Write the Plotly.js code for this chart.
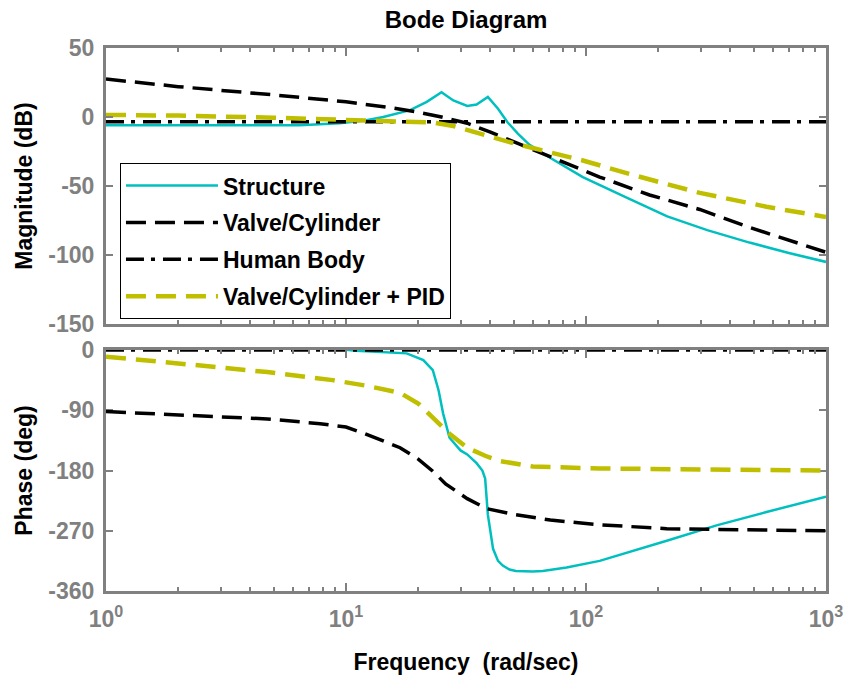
<!DOCTYPE html>
<html><head><meta charset="utf-8">
<script src="https://cdn.plot.ly/plotly-3.0.1.min.js"></script>
<style>html,body{margin:0;padding:0;background:#fff}#chart{width:843px;height:677px}</style>
</head><body><div id="chart"></div>
<script>
// ---- data ----
const seriesNames = ['Structure', 'Valve/Cylinder', 'Human Body', 'Valve/Cylinder + PID'];

const structMagFreq = [1, 2, 4, 6.4, 9.4, 12, 14.3, 16.5, 18.5, 21.7, 25, 28, 32, 35, 39, 43, 47, 52, 58, 70, 97, 150, 218, 320, 480, 700, 1000];
const structMag     = [-6, -6, -6, -6, -4.5, -2.5, 0, 2.5, 5, 11, 18, 12, 8, 9, 14.5, 6, -3.6, -12, -20, -29, -43.5, -59, -72, -82, -91, -98.5, -105];
const structPhFreq  = [1, 5, 9, 11, 14, 17.9, 21, 23, 24.3, 25.4, 27, 30, 32, 35, 37, 38, 39, 40, 41, 43, 45, 48, 51, 60, 66, 83, 114, 217, 350, 565, 1000];
const structPhase   = [2, 2, 2, -1, -3, -5, -15, -30, -60, -95, -131, -150, -156, -169, -180, -192, -246, -275, -297, -315, -322, -328, -330, -331, -330, -325, -315, -285, -262, -242, -219];

const valveMagFreq  = [1, 2, 5, 10, 15, 20, 25, 32, 40, 50, 60, 70, 88, 114, 184, 298, 480, 700, 1000];
const valveMag      = [27.5, 22, 16, 11, 7, 3.5, 0, -4.5, -11, -18, -24, -28.5, -36, -43.5, -56.5, -67, -80, -89, -98];
const valvePhFreq   = [1, 2.5, 4.7, 7.8, 10, 12, 16.8, 20, 23, 26, 32, 38.5, 51, 71, 114, 217, 500, 1000];
const valvePhase    = [-92, -98, -103, -110, -115, -125, -146, -163, -181, -200, -222, -237, -246, -254, -261, -267, -269, -270];

const humanFreq     = [1, 1000];
const humanMag      = [-3.5, -3.5];
const humanPhase    = [0, 0];

const pidMagFreq    = [1, 2, 5, 8.8, 12.2, 17, 23, 28, 32, 40, 47, 51, 60, 83, 97, 157, 298, 565, 1000];
const pidMag        = [1.5, 1, -0.5, -2, -2.5, -3, -4, -6.5, -9.5, -14, -18, -19.5, -22.5, -29, -31.5, -42, -55, -65, -72.5];
const pidPhFreq     = [1, 1.8, 3, 4.7, 8.8, 12, 16.8, 20, 23, 27, 32, 38, 44, 60, 114, 300, 1000];
const pidPhase      = [-10, -18, -26, -33, -45, -53, -64, -80, -100, -125, -146, -158, -166, -174, -177, -179, -180];

const freqTickVals  = [1, 10, 100, 1000];
const freqTickText  = ['10<sup>0</sup>', '10<sup>1</sup>', '10<sup>2</sup>', '10<sup>3</sup>'];
const magTickVals   = [50, 0, -50, -100, -150];
const magTickText   = ['50', '0', '-50', '-100', '-150'];
const phTickVals    = [0, -90, -180, -270, -360];
const phTickText    = ['0', '-90', '-180', '-270', '-360'];

// minor log ticks: 2..9 within each decade
const minorFreqTicks = [];
[1, 10, 100].forEach(dec => { for (let k = 2; k <= 9; k++) minorFreqTicks.push(dec * k); });

// ---- styles ----
const FONT = 'Liberation Sans, Arial, sans-serif';
const GREY = '#808080';
const CYAN = 'rgb(0,191,191)';
const YEL = 'rgb(191,191,0)';
const styles = [
  {color: CYAN, width: 2.5, dash: 'solid'},
  {color: 'black', width: 3.5, dash: '20px,9px'},
  {color: 'black', width: 3.5, dash: '18px,7px,4px,8px'},
  {color: YEL, width: 4.5, dash: '20px,10px'}
];
const magData = [[structMagFreq, structMag], [valveMagFreq, valveMag], [humanFreq, humanMag], [pidMagFreq, pidMag]];
const phData = [[structPhFreq, structPhase], [valvePhFreq, valvePhase], [humanFreq, humanPhase], [pidPhFreq, pidPhase]];

const traces = [];
magData.forEach((d, i) => traces.push({
  x: d[0], y: d[1], xaxis: 'x', yaxis: 'y', type: 'scatter', mode: 'lines',
  name: seriesNames[i], legendgroup: 'g' + i, showlegend: true,
  line: Object.assign({}, styles[i]), hoverinfo: 'skip'
}));
phData.forEach((d, i) => traces.push({
  x: d[0], y: d[1], xaxis: 'x2', yaxis: 'y2', type: 'scatter', mode: 'lines',
  name: seriesNames[i], legendgroup: 'g' + i, showlegend: false,
  line: Object.assign({}, styles[i]), hoverinfo: 'skip'
}));
// empty helper traces so the top-side minor-tick overlay axes are drawn
traces.push({x: [], y: [], xaxis: 'x3', yaxis: 'y', type: 'scatter', mode: 'lines', showlegend: false, hoverinfo: 'skip'});
traces.push({x: [], y: [], xaxis: 'x4', yaxis: 'y2', type: 'scatter', mode: 'lines', showlegend: false, hoverinfo: 'skip'});

const minorTicks = {tickmode: 'array', tickvals: minorFreqTicks, ticks: 'inside', ticklen: 4, tickwidth: 2, tickcolor: GREY, showgrid: false};
const xBase = {
  type: 'log', range: [0, 3], tickmode: 'array', tickvals: freqTickVals, ticktext: freqTickText,
  ticks: 'inside', ticklen: 8, tickwidth: 2, tickcolor: GREY,
  showline: true, linewidth: 3, linecolor: GREY, mirror: 'ticks',
  showgrid: false, zeroline: false, ticklabelstandoff: 5, ticklabeloverflow: 'allow',
  minor: minorTicks,
  tickfont: {family: FONT, size: 23, color: GREY, weight: 'bold'}
};
const xTopMinor = {
  type: 'log', range: [0, 3], side: 'top', tickmode: 'array', tickvals: minorFreqTicks,
  ticks: 'inside', ticklen: 4, tickwidth: 2, tickcolor: GREY,
  showline: false, showgrid: false, zeroline: false, showticklabels: false
};
const yBase = {
  tickmode: 'array', ticks: 'inside', ticklen: 7, tickwidth: 2, tickcolor: GREY,
  showline: true, linewidth: 3, linecolor: GREY, mirror: 'ticks',
  showgrid: false, zeroline: false, ticklabelstandoff: 4,
  tickfont: {family: FONT, size: 23, color: GREY, weight: 'bold'}
};

const layout = {
  width: 843, height: 677,
  margin: {l: 106, r: 17, t: 48, b: 86},
  paper_bgcolor: 'white', plot_bgcolor: 'white',
  showlegend: true,
  title: {text: 'Bode Diagram', x: 0.5, xref: 'paper', y: 1 - 20 / 677, yref: 'container', yanchor: 'middle',
          font: {family: FONT, size: 24, color: 'black', weight: 'bold'}},
  xaxis: Object.assign({}, xBase, {anchor: 'y', showticklabels: false, domain: [0, 1]}),
  xaxis2: Object.assign({}, xBase, {anchor: 'y2', domain: [0, 1],
     title: {text: 'Frequency\u00a0\u00a0(rad/sec)', standoff: 24, font: {family: FONT, size: 23, color: 'black', weight: 'bold'}}}),
  xaxis3: Object.assign({}, xTopMinor, {anchor: 'y', overlaying: 'x'}),
  xaxis4: Object.assign({}, xTopMinor, {anchor: 'y2', overlaying: 'x2'}),
  yaxis: Object.assign({}, yBase, {anchor: 'x', domain: [0.4917, 1], range: [-150, 50],
     tickvals: magTickVals, ticktext: magTickText,
     title: {text: 'Magnitude (dB)', standoff: 10, font: {family: FONT, size: 23, color: 'black', weight: 'bold'}}}),
  yaxis2: Object.assign({}, yBase, {anchor: 'x2', domain: [0, 0.4438], range: [-360, 0], layer: 'below traces',
     tickvals: phTickVals, ticktext: phTickText,
     title: {text: 'Phase (deg)', standoff: 10, font: {family: FONT, size: 23, color: 'black', weight: 'bold'}}}),
  legend: {x: 0.0194, y: 0.788, xanchor: 'left', yanchor: 'top', bgcolor: 'white',
     bordercolor: 'black', borderwidth: 1, itemwidth: 92, tracegroupgap: 4,
     font: {family: FONT, size: 23, color: 'black', weight: 'bold'}}
};

Plotly.newPlot('chart', traces, layout, {displayModeBar: false, staticPlot: true});
</script>
</body></html>
